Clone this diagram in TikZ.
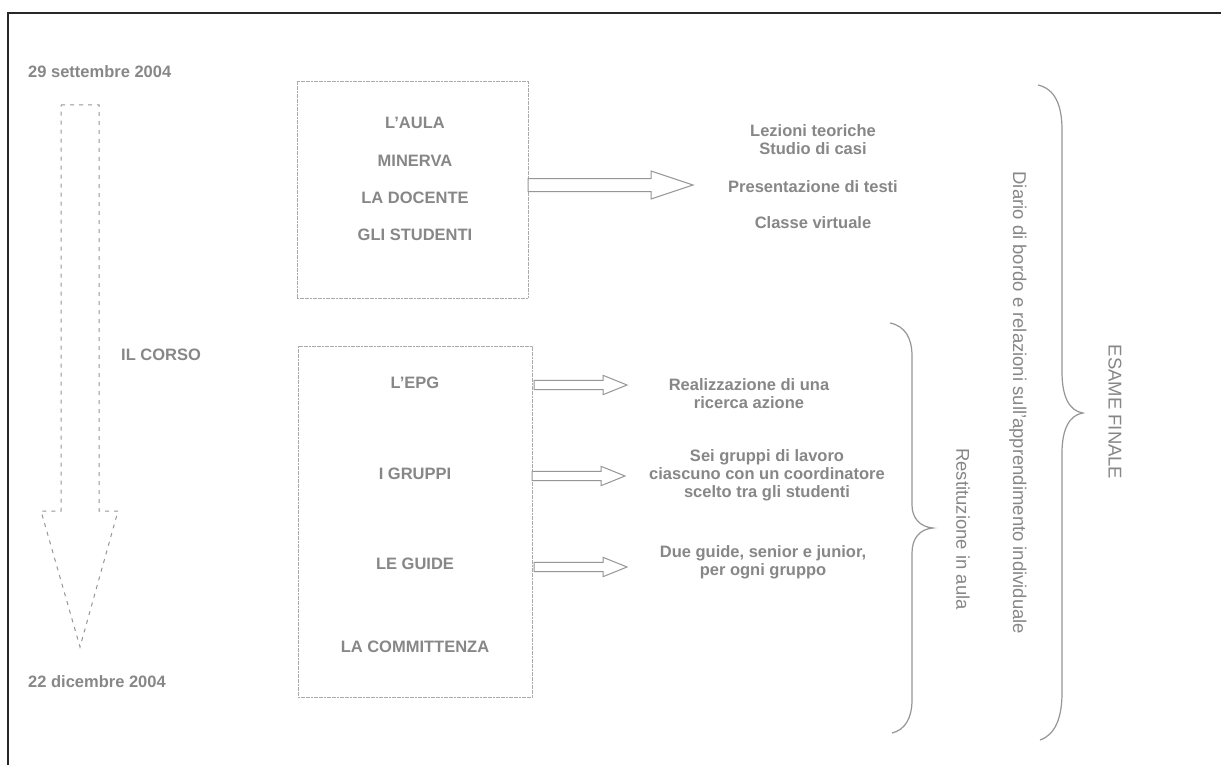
\documentclass[tikz,border=0pt]{standalone}
\usepackage{fontspec}
\setmainfont{Liberation Sans}
\usetikzlibrary{calc}
\definecolor{txtgray}{RGB}{135,135,135}
\definecolor{lngray}{RGB}{150,150,150}
\definecolor{boxgray}{RGB}{170,170,170}
\definecolor{framegray}{RGB}{40,40,40}

% hollow block arrow: #1 start, #2 tip, #3 shaft half-height, #4 head half-height, #5 head length
\newcommand{\blockarrow}[5]{%
  \draw[arrowline] ($(#1)+(0,#3)$) -- ($(#2)+(-#5,#3)$) -- ($(#2)+(-#5,#4)$) -- (#2)
    -- ($(#2)+(-#5,-#4)$) -- ($(#2)+(-#5,-#3)$) -- ($(#1)+(0,-#3)$) -- cycle;}

\begin{document}
\begin{tikzpicture}[x=1pt,y=-1pt,
  lbl/.style={text=txtgray,font=\fontsize{16.5}{18}\selectfont\bfseries,inner sep=0pt,align=center},
  vlbl/.style={text=txtgray,font=\fontsize{18.5}{20}\selectfont,inner sep=0pt,rotate=-90},
  groupbox/.style={draw=boxgray,line width=0.9pt,dash pattern=on 2pt off 0.6pt,inner sep=0pt,outer sep=0pt},
  arrowline/.style={draw=lngray,line width=1pt,fill=white,line join=miter},
  timeline/.style={draw=lngray,line width=1pt,dash pattern=on 4pt off 5pt},
  bracestyle/.style={draw=lngray,line width=1.2pt},
  frame/.style={draw=framegray,line width=2pt}]

\useasboundingbox (0,0) rectangle (1221,765);
\fill[white] (0,0) rectangle (1221,765);
\draw[frame] (1221,13) -- (8,13) -- (8,765);

% course timeline
\node[lbl,anchor=west] (start) at (28,72) {29 settembre 2004};
\node[lbl,anchor=west] (end) at (28,682) {22 dicembre 2004};
\node[lbl,anchor=west] (corso) at (121,355) {IL CORSO};
\draw[timeline] (61,105) -- (99,105) -- (99,511) -- (118,511) -- (80,647)
  -- (41,511) -- (61,511) -- cycle;

% upper group
\node[groupbox,minimum width=231pt,minimum height=217pt] (aula) at (412.5,189.5) {};
\node[lbl] (laula) at (415,123) {L'AULA};
\node[lbl] (minerva) at (415,161) {MINERVA};
\node[lbl] (docente) at (415,198) {LA DOCENTE};
\node[lbl] (studenti) at (415,235) {GLI STUDENTI};

\node[lbl] (lezioni) at (813,139.5) {Lezioni teoriche\\Studio di casi};
\node[lbl] (present) at (813,187) {Presentazione di testi};
\node[lbl] (classe) at (813,223) {Classe virtuale};

\coordinate (t1) at (693,185);
\coordinate (s1) at (aula.east |- t1);
\blockarrow{s1}{t1}{6.5}{14}{42}

% lower group
\node[groupbox,minimum width=234pt,minimum height=351pt] (epg) at (415,521.5) {};
\node[lbl] (lepg) at (415,383) {L'EPG};
\node[lbl] (gruppi) at (415,474) {I GRUPPI};
\node[lbl] (guide) at (415,564) {LE GUIDE};
\node[lbl] (committ) at (415,647) {LA COMMITTENZA};

\node[lbl] (ricerca) at (749,393.5) {Realizzazione di una\\ricerca azione};
\node[lbl] (sei) at (767,475) {Sei gruppi di lavoro\\ciascuno con un coordinatore\\scelto tra gli studenti};
\node[lbl] (due) at (763,562.5) {Due guide, senior e junior,\\per ogni gruppo};

\coordinate (t2) at (627,385);
\coordinate (t3) at (625,476);
\coordinate (t4) at (627,567);
\coordinate (s2) at ($(epg.east |- t2)+(2,0)$);
\coordinate (s3) at (epg.east |- t3);
\coordinate (s4) at ($(epg.east |- t4)+(2,0)$);
\blockarrow{s2}{t2}{4.7}{9.7}{24}
\blockarrow{s3}{t3}{4.7}{9.7}{24}
\blockarrow{s4}{t4}{4.7}{9.7}{24}

% braces
\draw[bracestyle] (890,323) .. controls (905,326) and (912,338) .. (912,356)
  -- (912,505) .. controls (912,518) and (920,527) .. (933,528)
  .. controls (920,529) and (912,538) .. (912,553)
  -- (912,700) .. controls (912,718) and (905,730) .. (892,733);
\node[vlbl] (restit) at (963,529) {Restituzione in aula};

\draw[bracestyle] (1038,85) .. controls (1055,89) and (1062,105) .. (1062,130)
  -- (1062,372) .. controls (1062,398) and (1070,411) .. (1083,413)
  .. controls (1070,415) and (1062,428) .. (1062,453)
  -- (1062,693) .. controls (1062,718) and (1055,735) .. (1040,740);
\node[vlbl] (diario) at (1018,403) {Diario di bordo e relazioni sull'apprendimento individuale};
\node[vlbl] (esame) at (1115,412) {ESAME FINALE};

\end{tikzpicture}
\end{document}
